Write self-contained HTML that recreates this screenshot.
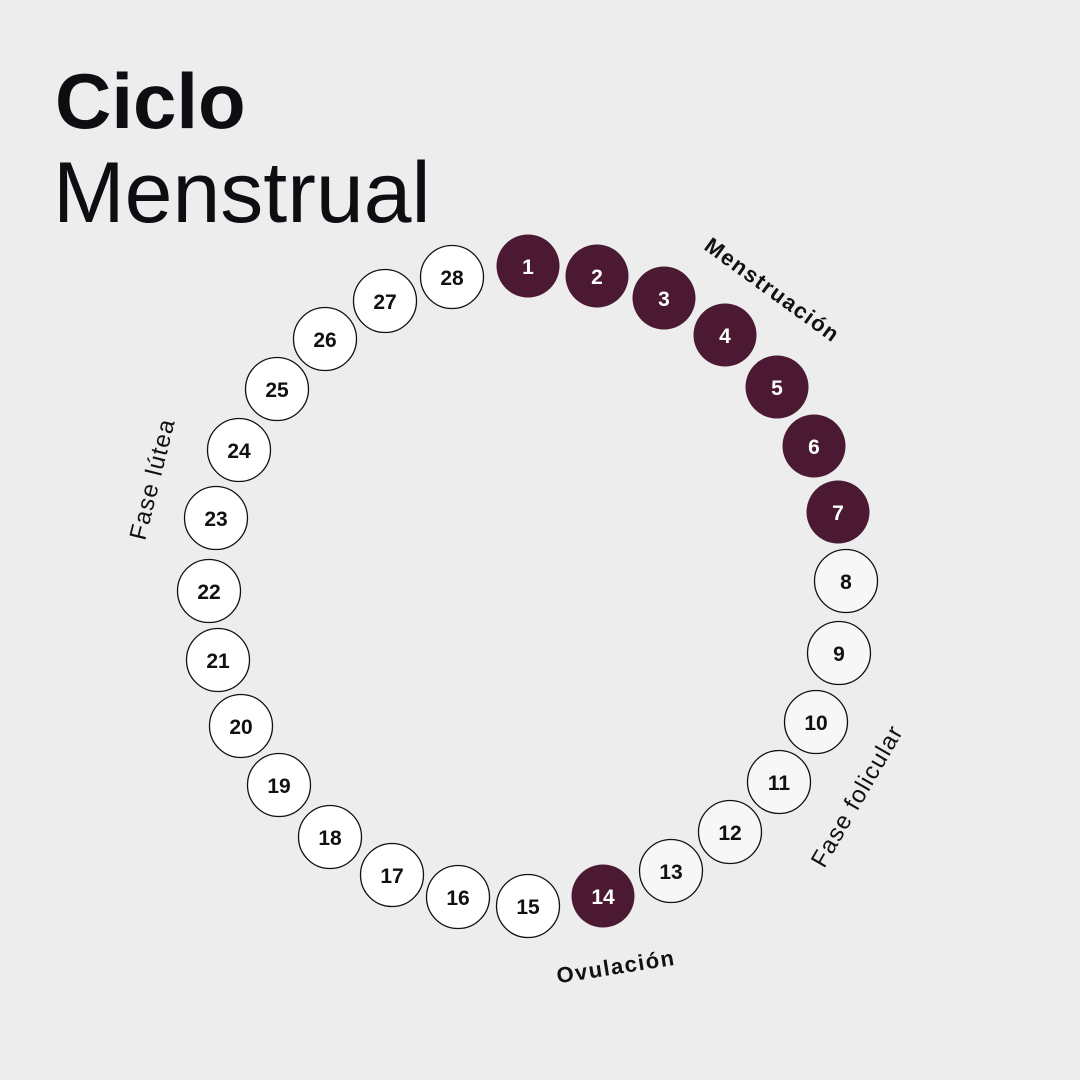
<!DOCTYPE html>
<html><head><meta charset="utf-8"><style>
html,body{margin:0;padding:0;background:#ededed;}
svg{display:block}
</style></head><body>
<svg width="1080" height="1080" viewBox="0 0 1080 1080" xmlns="http://www.w3.org/2000/svg" font-family="Liberation Sans, sans-serif">
<rect width="1080" height="1080" fill="#ededed"/>
<text x="55" y="128" font-size="78" font-weight="bold" fill="#0d0d12">Ciclo</text>
<text x="53" y="222" font-size="86" fill="#0d0d12">Menstrual</text>
<g font-size="21" font-weight="bold" text-anchor="middle" stroke-width="1.3">
<circle cx="528" cy="266" r="31.5" fill="#4b1a32"/><text x="528" y="274" fill="#fff">1</text>
<circle cx="597" cy="276" r="31.5" fill="#4b1a32"/><text x="597" y="284" fill="#fff">2</text>
<circle cx="664" cy="298" r="31.5" fill="#4b1a32"/><text x="664" y="306" fill="#fff">3</text>
<circle cx="725" cy="335" r="31.5" fill="#4b1a32"/><text x="725" y="343" fill="#fff">4</text>
<circle cx="777" cy="387" r="31.5" fill="#4b1a32"/><text x="777" y="395" fill="#fff">5</text>
<circle cx="814" cy="446" r="31.5" fill="#4b1a32"/><text x="814" y="454" fill="#fff">6</text>
<circle cx="838" cy="512" r="31.5" fill="#4b1a32"/><text x="838" y="520" fill="#fff">7</text>
<circle cx="846" cy="581" r="31.5" fill="#f7f7f7" stroke="#111"/><text x="846" y="589" fill="#111">8</text>
<circle cx="839" cy="653" r="31.5" fill="#f7f7f7" stroke="#111"/><text x="839" y="661" fill="#111">9</text>
<circle cx="816" cy="722" r="31.5" fill="#f7f7f7" stroke="#111"/><text x="816" y="730" fill="#111">10</text>
<circle cx="779" cy="782" r="31.5" fill="#f7f7f7" stroke="#111"/><text x="779" y="790" fill="#111">11</text>
<circle cx="730" cy="832" r="31.5" fill="#f7f7f7" stroke="#111"/><text x="730" y="840" fill="#111">12</text>
<circle cx="671" cy="871" r="31.5" fill="#f7f7f7" stroke="#111"/><text x="671" y="879" fill="#111">13</text>
<circle cx="603" cy="896" r="31.5" fill="#4b1a32"/><text x="603" y="904" fill="#fff">14</text>
<circle cx="528" cy="906" r="31.5" fill="#fff" stroke="#111"/><text x="528" y="914" fill="#111">15</text>
<circle cx="458" cy="897" r="31.5" fill="#fff" stroke="#111"/><text x="458" y="905" fill="#111">16</text>
<circle cx="392" cy="875" r="31.5" fill="#fff" stroke="#111"/><text x="392" y="883" fill="#111">17</text>
<circle cx="330" cy="837" r="31.5" fill="#fff" stroke="#111"/><text x="330" y="845" fill="#111">18</text>
<circle cx="279" cy="785" r="31.5" fill="#fff" stroke="#111"/><text x="279" y="793" fill="#111">19</text>
<circle cx="241" cy="726" r="31.5" fill="#fff" stroke="#111"/><text x="241" y="734" fill="#111">20</text>
<circle cx="218" cy="660" r="31.5" fill="#fff" stroke="#111"/><text x="218" y="668" fill="#111">21</text>
<circle cx="209" cy="591" r="31.5" fill="#fff" stroke="#111"/><text x="209" y="599" fill="#111">22</text>
<circle cx="216" cy="518" r="31.5" fill="#fff" stroke="#111"/><text x="216" y="526" fill="#111">23</text>
<circle cx="239" cy="450" r="31.5" fill="#fff" stroke="#111"/><text x="239" y="458" fill="#111">24</text>
<circle cx="277" cy="389" r="31.5" fill="#fff" stroke="#111"/><text x="277" y="397" fill="#111">25</text>
<circle cx="325" cy="339" r="31.5" fill="#fff" stroke="#111"/><text x="325" y="347" fill="#111">26</text>
<circle cx="385" cy="301" r="31.5" fill="#fff" stroke="#111"/><text x="385" y="309" fill="#111">27</text>
<circle cx="452" cy="277" r="31.5" fill="#fff" stroke="#111"/><text x="452" y="285" fill="#111">28</text>
</g>
<g fill="#111" text-anchor="middle">
<text transform="translate(768,296) rotate(36)" font-weight="bold" font-size="22" letter-spacing="1.5">Menstruación</text>
<text transform="translate(864,800) rotate(-60)" font-size="24" letter-spacing="1.2">Fase folicular</text>
<text transform="translate(617,974) rotate(-9)" font-weight="bold" font-size="22" letter-spacing="1.5">Ovulación</text>
<text transform="translate(160,481) rotate(-76)" font-size="24" letter-spacing="1.2">Fase lútea</text>
</g>
</svg>
</body></html>
